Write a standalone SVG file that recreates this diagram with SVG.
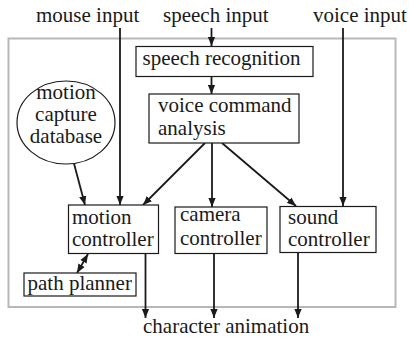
<svg xmlns="http://www.w3.org/2000/svg" width="409" height="343" viewBox="0 0 409 343">
<style>
text{font-family:"Liberation Serif","Times New Roman",serif;font-size:21px;fill:#1a1a1a}
.box{fill:#fff;stroke:#1a1a1a;stroke-width:1.2}
.c{stroke:#1a1a1a;stroke-width:1.8;fill:none}
</style>
<defs>
<marker id="ah" viewBox="0 0 10 8" refX="10" refY="4" markerWidth="9" markerHeight="8" markerUnits="userSpaceOnUse" orient="auto-start-reverse">
<path d="M0,0 L10,4 L0,8 z" fill="#1a1a1a"/>
</marker>
</defs>
<rect x="8.5" y="38.5" width="387" height="268.5" fill="none" stroke="#b8b8b8" stroke-width="2"/>
<g id="labels">
<text x="36" y="22">mouse input</text>
<text x="163" y="22">speech input</text>
<text x="313" y="22">voice input</text>
<text x="143" y="333">character animation</text>
</g>
<g id="connectors">
<path class="c" d="M120,28 V205" marker-end="url(#ah)"/>
<path class="c" d="M211.5,28 V46" marker-end="url(#ah)"/>
<path class="c" d="M211.5,76.5 V94" marker-end="url(#ah)"/>
<path class="c" d="M343,28 V206" marker-end="url(#ah)"/>
<path class="c" d="M74,163.5 L85,205" marker-end="url(#ah)"/>
<path class="c" d="M205,143 L143,205" marker-end="url(#ah)"/>
<path class="c" d="M212,143 V207" marker-end="url(#ah)"/>
<path class="c" d="M222,143 L296,206" marker-end="url(#ah)"/>
<path class="c" d="M88,254 L77,273" marker-start="url(#ah)" marker-end="url(#ah)"/>
<path class="c" d="M145.5,253 V318" marker-end="url(#ah)"/>
<path class="c" d="M214,253 V318" marker-end="url(#ah)"/>
<path class="c" d="M298,252 V318" marker-end="url(#ah)"/>
</g>
<g id="speech-recognition">
<rect class="box" x="136" y="46.5" width="177" height="30"/>
<text x="142.5" y="65">speech recognition</text>
</g>
<g id="voice-command-analysis">
<rect class="box" x="149" y="94" width="150" height="49"/>
<text x="158" y="112">voice command</text>
<text x="158" y="134.5">analysis</text>
</g>
<g id="motion-capture-database">
<ellipse cx="66" cy="122.5" rx="49" ry="41.5" fill="#fff" stroke="#1a1a1a" stroke-width="1.2"/>
<text x="66" y="98.5" text-anchor="middle">motion</text>
<text x="66" y="120.5" text-anchor="middle">capture</text>
<text x="66" y="142.5" text-anchor="middle">database</text>
</g>
<g id="motion-controller">
<rect class="box" x="68.5" y="205" width="90" height="48.5"/>
<text x="72" y="224">motion</text>
<text x="72" y="246">controller</text>
</g>
<g id="camera-controller">
<rect class="box" x="175" y="207" width="92" height="46.5"/>
<text x="180" y="221">camera</text>
<text x="180" y="245">controller</text>
</g>
<g id="sound-controller">
<rect class="box" x="280" y="206.5" width="96" height="46"/>
<text x="288" y="224">sound</text>
<text x="288" y="246">controller</text>
</g>
<g id="path-planner">
<rect class="box" x="24" y="273" width="112" height="23"/>
<text x="27.5" y="290">path planner</text>
</g>
</svg>
